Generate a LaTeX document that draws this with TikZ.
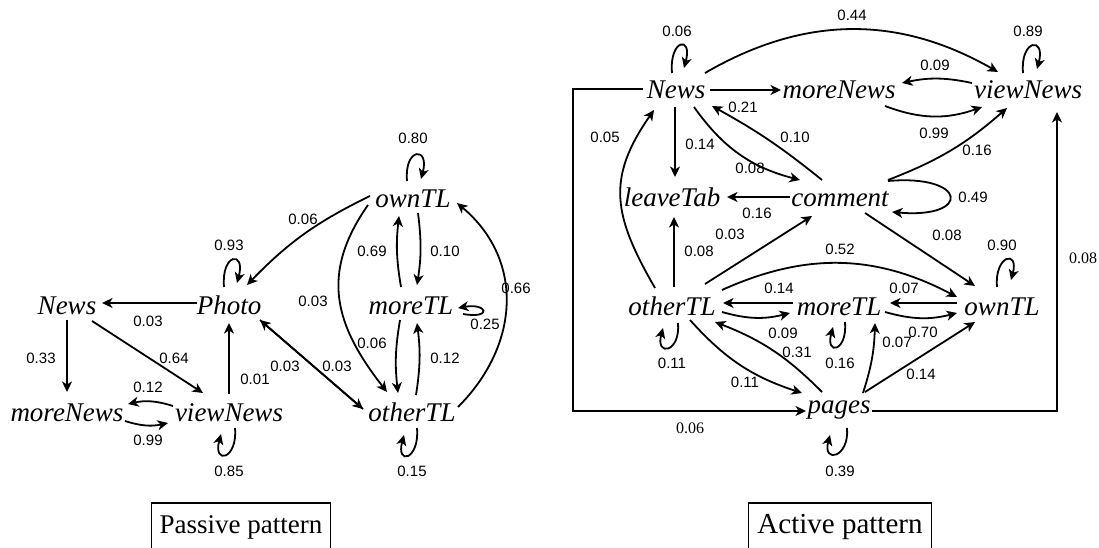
\documentclass[tikz,border=0pt]{standalone}
\usepackage{fontspec}
\setmainfont{Liberation Serif}
\newfontfamily\numfont{Liberation Sans}
\usetikzlibrary{arrows.meta}
\begin{document}
\begin{tikzpicture}[x=1pt,y=1pt,
  st/.style={font=\fontsize{27}{30}\selectfont\itshape, inner sep=0pt, anchor=base},
  lab/.style={font=\numfont\fontsize{15}{17}\selectfont, inner sep=0pt},
  slab/.style={font=\fontsize{16}{18}\selectfont, inner sep=0pt},
  arr/.style={line width=1.8pt, -{Stealth[length=10.5pt,width=10pt,inset=3pt]}},
  pbox/.style={draw, line width=1.5pt, font=\fontsize{29}{32}\selectfont, inner xsep=9pt, inner ysep=11pt, anchor=base}
]
\useasboundingbox (0,0) rectangle (1099,547);

% ---------- Passive pattern ----------
\node[st] (pown)  at (413,547-207) {ownTL};
\node[st] (pph)   at (229,547-314) {Photo};
\node[st] (pnews) at (67,547-314) {News};
\node[st] (pmn)   at (67,547-421) {moreNews};
\node[st] (pvn)   at (229,547-421) {viewNews};
\node[st] (pmt)   at (411,547-314) {moreTL};
\node[st] (pot)   at (412,547-421) {otherTL};
\node[pbox, font=\fontsize{27}{32}\selectfont, inner xsep=8pt, inner ysep=12pt] (pbx) at (241,547-533) {Passive pattern};

\draw[arr] ([shift={(-32,11)}]pph.base) -- ([shift={(35,11)}]pnews.base);
\draw[arr] ([shift={(0,-6)}]pnews.base) -- ([shift={(0,29)}]pmn.base);
\draw[arr] ([shift={(25,-7)}]pnews.base) -- ([shift={(-26,28)}]pvn.base);
\draw[arr] ([shift={(0,27)}]pvn.base) -- ([shift={(0,-9)}]pph.base);
\draw[arr] ([shift={(-56,15)}]pvn.base) to[bend right=15] ([shift={(61,17)}]pmn.base);
\draw[arr] ([shift={(58,0)}]pmn.base) to[bend right=15] ([shift={(-61,-2)}]pvn.base);
\draw[arr] ([shift={(31,-6)}]pph.base) -- ([shift={(-49,12)}]pot.base);
\draw[arr] ([shift={(-49,12)}]pot.base) -- ([shift={(31,-6)}]pph.base);
\draw[arr] ([shift={(-43,11)}]pown.base) to[bend right=10] ([shift={(18,29)}]pph.base);
\draw[arr] ([shift={(-45,2)}]pown.base) to[out=235,in=128,looseness=1.15] ([shift={(-25,29)}]pot.base);
\draw[arr] ([shift={(5,-6)}]pown.base) to[bend left=8] ([shift={(6,29)}]pmt.base);
\draw[arr] ([shift={(-10,27)}]pmt.base) to[bend left=8] ([shift={(-14,-9)}]pown.base);
\draw[arr] ([shift={(-11,-6)}]pmt.base) to[bend right=8] ([shift={(-14,28)}]pot.base);
\draw[arr] ([shift={(4,26)}]pot.base) to[bend right=8] ([shift={(6,-9)}]pmt.base);
\draw[arr] ([shift={(46,14)}]pot.base) to[out=45,in=-40,looseness=1.1] ([shift={(44,4)}]pown.base);
% loops
\draw[arr] ([shift={(-6,26)}]pown.base) to[out=95,in=75,distance=34] ([shift={(8,28)}]pown.base);
\draw[arr] ([shift={(-5,27)}]pph.base) to[out=95,in=75,distance=34] ([shift={(8,31)}]pph.base);
\draw[arr] ([shift={(6,-7)}]pvn.base) to[out=-85,in=-105,distance=32] ([shift={(-8,-13)}]pvn.base);
\draw[arr] ([shift={(5,-7)}]pot.base) to[out=-85,in=-105,distance=32] ([shift={(-8,-14)}]pot.base);
\draw[arr] ([shift={(52,0)}]pmt.base) to[out=-10,in=10,distance=30] ([shift={(47,6)}]pmt.base);

% labels passive
\node[lab] (pl1) at (413,547-138) {0.80};
\node[lab] (pl2) at (229,547-245) {0.93};
\node[lab] (pl3) at (303,547-219) {0.06};
\node[lab] (pl4) at (372,547-251) {0.69};
\node[lab] (pl5) at (445,547-251) {0.10};
\node[lab] (pl6) at (313,547-301) {0.03};
\node[lab] (pl7) at (516,547-288) {0.66};
\node[lab] (pl8) at (485,547-324) {0.25};
\node[lab] (pl9) at (148,547-321) {0.03};
\node[lab] (pl10) at (41,547-358) {0.33};
\node[lab] (pl11) at (174,547-358) {0.64};
\node[lab] (pl12) at (372,547-343) {0.06};
\node[lab] (pl13) at (445,547-358) {0.12};
\node[lab] (pl14) at (285,547-366) {0.03};
\node[lab] (pl15) at (337,547-366) {0.03};
\node[lab] (pl16) at (255,547-379) {0.01};
\node[lab] (pl17) at (148,547-387) {0.12};
\node[lab] (pl18) at (148,547-440) {0.99};
\node[lab] (pl19) at (229,547-471) {0.85};
\node[lab] (pl20) at (412,547-471) {0.15};

% ---------- Active pattern ----------
\node[st] (an)  at (676,547-99) {News};
\node[st] (amn) at (839,547-99) {moreNews};
\node[st] (avn) at (1028,547-99) {viewNews};
\node[st] (alt) at (672,547-206) {leaveTab};
\node[st] (acm) at (840,547-206) {comment};
\node[st] (aot) at (672,547-315) {otherTL};
\node[st] (amt) at (839,547-315) {moreTL};
\node[st] (aow) at (1002,547-315) {ownTL};
\node[st] (apg) at (839,547-413) {pages};
\node[pbox] (abx) at (840,547-533) {Active pattern};

\draw[arr] ([shift={(-4,26)}]an.base) to[out=95,in=75,distance=34] ([shift={(8,31)}]an.base);
\draw[arr] ([shift={(-5,26)}]avn.base) to[out=95,in=75,distance=34] ([shift={(9,30)}]avn.base);
\draw[arr] ([shift={(-5,28)}]aow.base) to[out=95,in=75,distance=32] ([shift={(9,35)}]aow.base);
\draw[arr] ([shift={(34,9)}]an.base) -- ([shift={(-58,9)}]amn.base);
\draw[arr] ([shift={(29,26)}]an.base) to[bend left=30] ([shift={(-30,27)}]avn.base);
\draw[arr] ([shift={(-56,16)}]avn.base) to[bend right=12] ([shift={(63,16)}]amn.base);
\draw[arr] ([shift={(46,-7)}]amn.base) to[bend right=20] ([shift={(-46,-8)}]avn.base);
\draw[arr] ([shift={(-1,-8)}]an.base) -- ([shift={(3,29)}]alt.base);
\draw[arr] ([shift={(18,-8)}]an.base) to[bend right=20] ([shift={(-40,26)}]acm.base);
\draw[arr] ([shift={(-18,26)}]acm.base) to[bend right=5] ([shift={(36,-7)}]an.base);
\draw[arr] ([shift={(-50,9)}]acm.base) -- ([shift={(55,9)}]alt.base);
\draw[arr] ([shift={(48,26)}]acm.base) to[bend right=10] ([shift={(-21,-9)}]avn.base);
\draw[arr] ([shift={(48,25)}]acm.base) to[out=5,in=-5,distance=80] ([shift={(52,-6)}]acm.base);
\draw[arr] ([shift={(25,-7)}]acm.base) -- ([shift={(-27,29)}]aow.base);
\draw[arr] ([shift={(2,28)}]aot.base) -- ([shift={(2,-11)}]alt.base);
\draw[arr] ([shift={(33,31)}]aot.base) -- ([shift={(-28,-10)}]acm.base);
\draw[arr] ([shift={(-17,27)}]aot.base) to[out=120,in=-125,looseness=1.2] ([shift={(-22,-11)}]an.base);
\draw[arr] ([shift={(50,25)}]aot.base) to[bend left=26] ([shift={(-45,18)}]aow.base);
\draw[arr] ([shift={(-46,12)}]amt.base) -- ([shift={(51,12)}]aot.base);
\draw[arr] ([shift={(50,3)}]aot.base) to[bend right=15] ([shift={(-49,2)}]amt.base);
\draw[arr] ([shift={(-45,12)}]aow.base) -- ([shift={(51,12)}]amt.base);
\draw[arr] ([shift={(46,3)}]amt.base) to[bend right=15] ([shift={(-45,2)}]aow.base);
\draw[arr] ([shift={(6,-7)}]amt.base) to[out=-85,in=-105,distance=30] ([shift={(-6,-12)}]amt.base);
\draw[arr] ([shift={(6,-8)}]aot.base) to[out=-85,in=-105,distance=30] ([shift={(-9,-13)}]aot.base);
\draw[arr] ([shift={(18,-5)}]aot.base) to[bend right=15] ([shift={(-37,20)}]apg.base);
\draw[arr] ([shift={(-17,21)}]apg.base) to[bend right=12] ([shift={(43,-7)}]aot.base);
\draw[arr] ([shift={(24,20)}]apg.base) to[bend right=8] ([shift={(36,-8)}]amt.base);
\draw[arr] ([shift={(26,21)}]apg.base) -- ([shift={(-27,-7)}]aow.base);
\draw[arr] ([shift={(8,-15)}]apg.base) to[out=-85,in=-105,distance=30] ([shift={(-9,-22)}]apg.base);
\draw[arr] ([shift={(-33,10)}]an.base) -- ++(-70,0) |- ([shift={(-33,2)}]apg.base);
\draw[arr] ([shift={(33,2)}]apg.base) -| ([shift={(29,-13)}]avn.base);

% labels active
\node[lab] (al1) at (677,547-31) {0.06};
\node[lab] (al2) at (1028,547-31) {0.89};
\node[lab] (al3) at (852,547-15) {0.44};
\node[lab] (al4) at (935,547-65) {0.09};
\node[lab] (al5) at (934,547-133) {0.99};
\node[lab] (al6) at (700,547-144) {0.14};
\node[lab] (al7) at (743,547-107) {0.21};
\node[lab] (al8) at (795,547-137) {0.10};
\node[lab] (al9) at (750,547-168) {0.08};
\node[lab] (al10) at (977,547-150) {0.16};
\node[lab] (al11) at (605,547-137) {0.05};
\node[lab] (al12) at (757,547-213) {0.16};
\node[lab] (al13) at (973,547-197) {0.49};
\node[lab] (al14) at (947,547-235) {0.08};
\node[lab] (al15) at (730,547-234) {0.03};
\node[lab] (al16) at (699,547-251) {0.08};
\node[lab] (al17) at (840,547-249) {0.52};
\node[lab] (al18) at (1002,547-245) {0.90};
\node[lab] (al19) at (779,547-288) {0.14};
\node[lab] (al20) at (904,547-288) {0.07};
\node[lab] (al21) at (783,547-333) {0.09};
\node[lab] (al22) at (923,547-332) {0.70};
\node[lab] (al23) at (672,547-363) {0.11};
\node[lab] (al24) at (840,547-363) {0.16};
\node[lab] (al25) at (797,547-352) {0.31};
\node[lab] (al26) at (897,547-342) {0.07};
\node[lab] (al27) at (745,547-382) {0.11};
\node[lab] (al28) at (921,547-374) {0.14};
\node[lab] (al29) at (840,547-471) {0.39};
\node[slab] (al30) at (690,547-428) {0.06};
\node[slab] (al31) at (1083,547-258) {0.08};
\end{tikzpicture}
\end{document}
